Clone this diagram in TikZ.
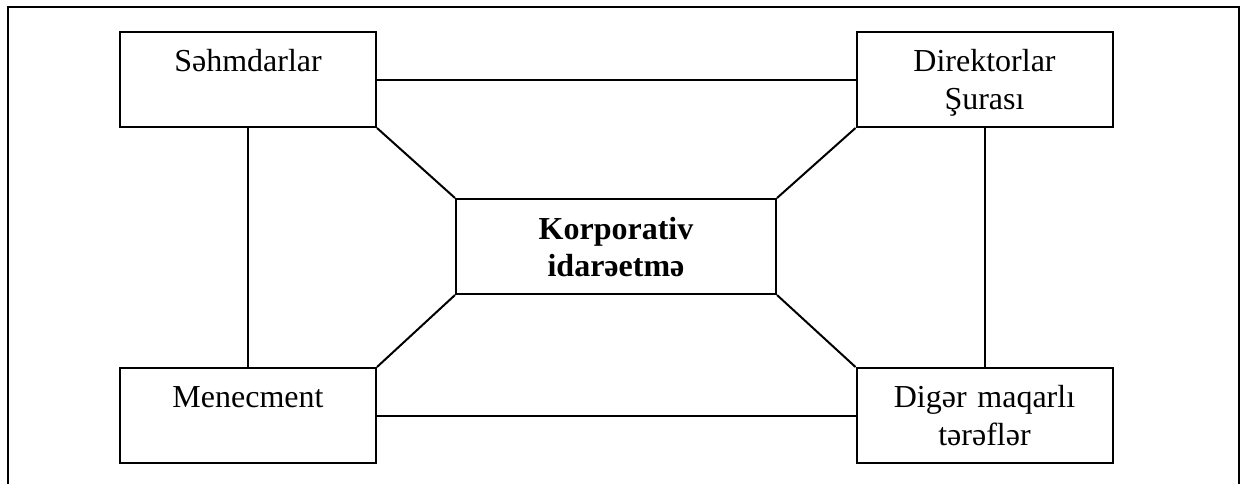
\documentclass[tikz,border=0pt]{standalone}
\usepackage{fontspec}
\setmainfont{Liberation Serif}
\tikzset{
  box/.style={draw, line width=1pt, inner sep=0pt, minimum width=128pt, minimum height=47.5pt},
  lbl/.style={text width=125pt, align=center, anchor=base, inner sep=0pt, font=\fontsize{16}{19}\selectfont},
}
\begin{document}
\begin{tikzpicture}[x=0.5pt,y=-0.5pt]
\useasboundingbox (0,0) rectangle (1245,484);
\draw[line width=1.2pt] (8,484) -- (8,7) -- (1239,7) -- (1239,484);

\node[box] (sh) at (248,79.5) {};
\node[box] (ds) at (984.5,79.5) {};
\node[box] (mn) at (248,415.5) {};
\node[box] (dg) at (984.5,415.5) {};
\node[box, minimum width=160pt] (ki) at (616,246.5) {};

\node[lbl] (shT) at ([yshift=-20pt]sh.north) {Səhmdarlar};
\node[lbl] (dsT) at ([yshift=-20pt]ds.north) {Direktorlar\\Şurası};
\node[lbl] (mnT) at ([yshift=-20pt]mn.north) {Menecment};
\node[lbl] (dgT) at ([yshift=-20pt]dg.north) {Digər maqarlı\\tərəflər};
\node[lbl, font=\fontsize{16}{18.5}\selectfont\bfseries] (kiT) at ([yshift=-20.5pt]ki.north) {Korporativ\\idarəetmə};

\path[draw,line width=1pt] (sh.east) -- (ds.west);
\path[draw,line width=1pt] (mn.east) -- (dg.west);
\path[draw,line width=1pt] (sh.south) -- (mn.north);
\path[draw,line width=1pt] (ds.south) -- (dg.north);

\path[draw,line width=1pt] (sh.south east) -- (ki.north west);
\path[draw,line width=1pt] (ds.south west) -- (ki.north east);
\path[draw,line width=1pt] (mn.north east) -- (ki.south west);
\path[draw,line width=1pt] (dg.north west) -- (ki.south east);
\end{tikzpicture}
\end{document}
